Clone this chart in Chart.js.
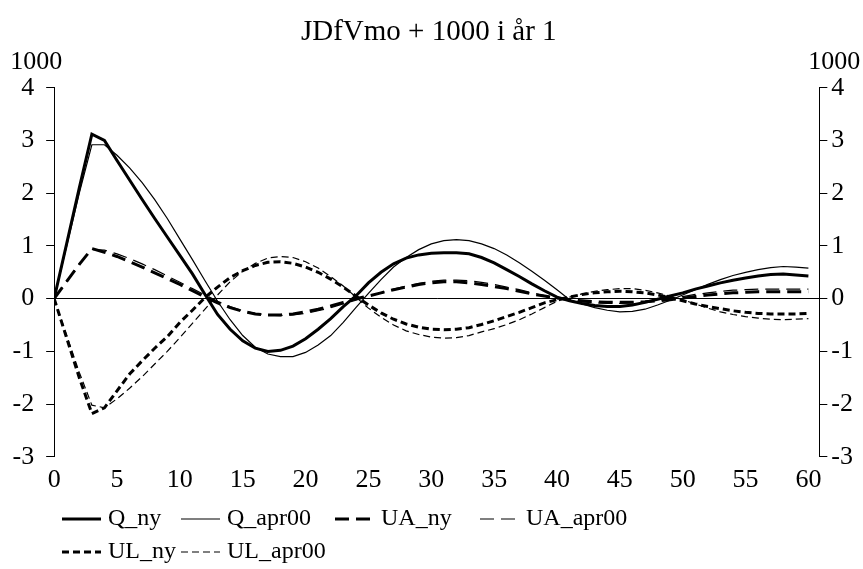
<!DOCTYPE html>
<html>
<head>
<meta charset="utf-8">
<script src="https://cdn.jsdelivr.net/npm/chart.js@4.4.1/dist/chart.umd.min.js"></script>
<style>
  html, body { margin: 0; padding: 0; background: #ffffff; }
  #wrap { position: relative; width: 863px; height: 569px; }
</style>
</head>
<body>
<div id="wrap"><canvas id="chart"></canvas></div>
<script>
/* ======================================================
   Datos
====================================================== */
const TITLE = 'JDfVmo + 1000 i år 1';
const UNIT_LABEL = '1000';

const quarters = [
  0, 1, 2, 3, 4, 5, 6, 7, 8, 9, 10, 11, 12, 13, 14, 15, 16, 17, 18, 19, 20,
  21, 22, 23, 24, 25, 26, 27, 28, 29, 30, 31, 32, 33, 34, 35, 36, 37, 38, 39, 40,
  41, 42, 43, 44, 45, 46, 47, 48, 49, 50, 51, 52, 53, 54, 55, 56, 57, 58, 59, 60
];

const qNy = [
  0, 1.05, 2.1, 3.12, 3.0, 2.62, 2.25, 1.88, 1.52, 1.17, 0.82, 0.47, 0.08, -0.3, -0.58, -0.8, -0.94, -1.0, -0.98, -0.9, -0.76,
  -0.58, -0.38, -0.15, 0.05, 0.3, 0.5, 0.66, 0.77, 0.83, 0.86, 0.87, 0.87, 0.85, 0.78, 0.68, 0.55, 0.42, 0.28, 0.15, 0.03,
  -0.04, -0.09, -0.13, -0.15, -0.15, -0.12, -0.07, -0.01, 0.05, 0.11, 0.18, 0.24, 0.3, 0.35, 0.39, 0.43, 0.46, 0.47, 0.45, 0.43
];

const qApr00 = [
  0, 1.0, 2.0, 2.92, 2.92, 2.72, 2.48, 2.2, 1.88, 1.52, 1.13, 0.74, 0.34, -0.05, -0.4, -0.7, -0.92, -1.05, -1.1, -1.1, -1.02,
  -0.88, -0.7, -0.45, -0.17, 0.1, 0.36, 0.6, 0.78, 0.93, 1.04, 1.1, 1.12, 1.1, 1.04, 0.95, 0.83, 0.68, 0.52, 0.35, 0.17,
  -0.02, -0.1, -0.17, -0.22, -0.25, -0.24, -0.2, -0.12, -0.03, 0.07, 0.17, 0.27, 0.36, 0.44, 0.5, 0.55, 0.59, 0.61, 0.6, 0.58
];

const uaNy = [
  0, 0.33, 0.65, 0.95, 0.88, 0.8, 0.7, 0.6, 0.49, 0.38, 0.27, 0.15, 0.03, -0.08, -0.17, -0.24, -0.29, -0.31, -0.31, -0.29, -0.25,
  -0.2, -0.14, -0.07, 0.0, 0.05, 0.11, 0.17, 0.22, 0.27, 0.3, 0.32, 0.32, 0.3, 0.27, 0.23, 0.19, 0.14, 0.09, 0.05, 0.01,
  -0.02, -0.04, -0.06, -0.07, -0.07, -0.07, -0.06, -0.04, -0.02, 0.01, 0.04, 0.07, 0.09, 0.11, 0.12, 0.13, 0.13, 0.13, 0.13, 0.13
];

const uaApr00 = [
  0, 0.33, 0.66, 0.93, 0.92, 0.85, 0.76, 0.66, 0.55, 0.43, 0.31, 0.19, 0.07, -0.05, -0.15, -0.23, -0.28, -0.31, -0.32, -0.31, -0.28,
  -0.23, -0.17, -0.1, -0.03, 0.04, 0.11, 0.18, 0.24, 0.29, 0.33, 0.35, 0.35, 0.34, 0.31, 0.27, 0.22, 0.17, 0.11, 0.06, 0.01,
  -0.03, -0.06, -0.08, -0.09, -0.09, -0.08, -0.06, -0.03, 0.0, 0.04, 0.08, 0.11, 0.14, 0.16, 0.17, 0.18, 0.18, 0.18, 0.18, 0.18
];

const ulNy = [
  0, -0.75, -1.5, -2.18, -2.07, -1.75, -1.43, -1.18, -0.94, -0.72, -0.45, -0.22, 0.02, 0.22, 0.4, 0.53, 0.63, 0.69, 0.7, 0.67, 0.6,
  0.5, 0.37, 0.22, 0.05, -0.12, -0.27, -0.39, -0.48, -0.54, -0.58, -0.59, -0.58, -0.55, -0.49, -0.42, -0.34, -0.26, -0.17, -0.08, -0.02,
  0.03, 0.08, 0.11, 0.13, 0.14, 0.13, 0.11, 0.07, 0.02, -0.04, -0.1, -0.15, -0.19, -0.23, -0.26, -0.28, -0.29, -0.29, -0.29, -0.28
];

const ulApr00 = [
  0, -0.7, -1.4, -2.02, -2.07, -1.9, -1.7, -1.48, -1.24, -1.0, -0.74, -0.47, -0.2, 0.07, 0.32, 0.52, 0.67, 0.77, 0.8, 0.78, 0.7,
  0.58, 0.42, 0.24, 0.03, -0.18, -0.35, -0.5, -0.61, -0.68, -0.73, -0.75, -0.74, -0.7, -0.63, -0.57, -0.49, -0.4, -0.29, -0.17, -0.05,
  0.03, 0.09, 0.14, 0.17, 0.19, 0.19, 0.16, 0.11, 0.05, -0.02, -0.1, -0.18, -0.25, -0.3, -0.34, -0.37, -0.39, -0.4, -0.39, -0.38
];

const yTicks = [-3, -2, -1, 0, 1, 2, 3, 4];
const xTicks = [0, 5, 10, 15, 20, 25, 30, 35, 40, 45, 50, 55, 60];

/* ======================================================
   Estilo
====================================================== */
const FONT = '"Liberation Serif", "Times New Roman", serif';
const INK = '#000000';
const THICK = 3;
const THIN = 1.2;

function series(label, values, width, dash) {
  return {
    label,
    data: quarters.map((q, i) => ({ x: q, y: values[i] })),
    borderColor: INK,
    backgroundColor: INK,
    borderWidth: width,
    borderDash: dash,
    pointRadius: 0,
    tension: 0,
    fill: false
  };
}

/* Textos "1000" encima de los ejes */
const unitLabels = {
  id: 'unitLabels',
  afterDraw(chart) {
    const { ctx, chartArea } = chart;
    ctx.save();
    ctx.font = `26px ${FONT}`;
    ctx.fillStyle = INK;
    ctx.textAlign = 'center';
    ctx.textBaseline = 'middle';
    ctx.fillText(UNIT_LABEL, chartArea.left - 18, chartArea.top - 26);
    ctx.fillText(UNIT_LABEL, chartArea.right + 15, chartArea.top - 26);
    ctx.restore();
  }
};

/* Leyenda en dos filas, columnas alineadas como en el original */
const LEGEND_ROWS = [[0, 1, 2, 3], [4, 5]];
const LEGEND_COLS = [62, 181, 335, 480];
const legendTwoRows = {
  id: 'legendTwoRows',
  afterDraw(chart) {
    const { ctx } = chart;
    const sets = chart.data.datasets;
    ctx.save();
    ctx.font = `24px ${FONT}`;
    ctx.fillStyle = INK;
    ctx.textAlign = 'left';
    ctx.textBaseline = 'middle';
    LEGEND_ROWS.forEach((row, r) => {
      const y = chart.height - 50 + r * 33;
      row.forEach((idx, c) => {
        const ds = sets[idx];
        const x = LEGEND_COLS[c];
        ctx.save();
        ctx.strokeStyle = ds.borderColor;
        ctx.lineWidth = ds.borderWidth;
        ctx.setLineDash(ds.borderDash || []);
        ctx.beginPath();
        ctx.moveTo(x, y);
        ctx.lineTo(x + 39, y);
        ctx.stroke();
        ctx.restore();
        ctx.fillText(ds.label, x + 46, y);
      });
    });
    ctx.restore();
  }
};

const yAxisBase = {
  type: 'linear',
  min: -3,
  max: 4,
  afterBuildTicks(scale) {
    scale.ticks = yTicks.map(v => ({ value: v }));
  },
  border: { display: true, color: INK, width: 1 }
};

new Chart(document.getElementById('chart'), {
  type: 'line',
  data: {
    datasets: [
      series('Q_ny', qNy, THICK, []),
      series('Q_apr00', qApr00, THIN, []),
      series('UA_ny', uaNy, THICK, [14, 7]),
      series('UA_apr00', uaApr00, THIN, [14, 7]),
      series('UL_ny', ulNy, THICK, [7, 4]),
      series('UL_apr00', ulApr00, THIN, [7, 4])
    ]
  },
  options: {
    responsive: true,
    maintainAspectRatio: false,
    animation: false,
    layout: {
      padding: { left: 0.5, right: 6, top: 0, bottom: 65 }
    },
    plugins: {
      legend: { display: false },
      tooltip: { enabled: false },
      title: {
        display: true,
        text: TITLE,
        color: INK,
        font: { family: FONT, size: 29, weight: 'normal' },
        padding: { top: 15, bottom: 38 }
      }
    },
    scales: {
      x: {
        type: 'linear',
        min: 0,
        max: 60.87,
        afterBuildTicks(scale) {
          scale.ticks = xTicks.map(v => ({ value: v }));
        },
        grid: { display: false, drawTicks: false },
        border: { display: false },
        ticks: {
          color: INK,
          font: { family: FONT, size: 26 },
          padding: 8,
          maxRotation: 0,
          autoSkip: false
        }
      },
      y: {
        ...yAxisBase,
        position: 'left',
        ticks: { color: INK, font: { family: FONT, size: 26 }, padding: 12 },
        grid: {
          drawOnChartArea: true,
          color: ctx => (ctx.tick && ctx.tick.value === 0 ? INK : 'rgba(0,0,0,0)'),
          tickColor: INK,
          tickLength: 8,
          lineWidth: 1
        }
      },
      y2: {
        ...yAxisBase,
        position: 'right',
        ticks: { color: INK, font: { family: FONT, size: 26 }, padding: 4 },
        grid: {
          drawOnChartArea: false,
          tickColor: INK,
          tickLength: 8
        }
      }
    }
  },
  plugins: [unitLabels, legendTwoRows]
});
</script>
</body>
</html>
